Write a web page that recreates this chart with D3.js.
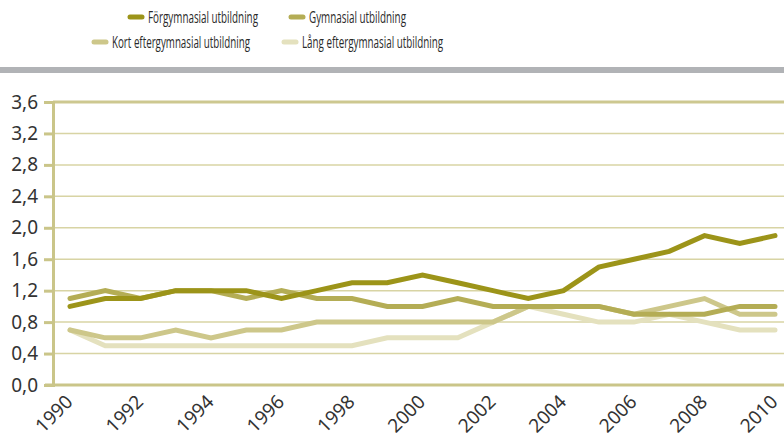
<!DOCTYPE html>
<html>
<head>
<meta charset="utf-8">
<script src="https://cdn.jsdelivr.net/npm/d3@7"></script>
<style>
  body { margin: 0; background: #fff; }
  .legend text { font-family: "Open Sans", sans-serif; font-size: 16px; fill: #2a2a2a; }
  .axis text { font-family: "Noto Sans", "Open Sans", sans-serif; font-size: 19px; fill: #333; }
  .xlabels text { font-family: "Noto Sans", "Open Sans", sans-serif; font-size: 19px; fill: #333; }
</style>
</head>
<body>
<div id="chart"></div>
<script>
// Data
const years = d3.range(1990, 2011);
const seriesNames = ["Förgymnasial utbildning", "Gymnasial utbildning", "Kort eftergymnasial utbildning", "Lång eftergymnasial utbildning"];
const forgymnasial = [1.0, 1.1, 1.1, 1.2, 1.2, 1.2, 1.1, 1.2, 1.3, 1.3, 1.4, 1.3, 1.2, 1.1, 1.2, 1.5, 1.6, 1.7, 1.9, 1.8, 1.9];
const gymnasial    = [1.1, 1.2, 1.1, 1.2, 1.2, 1.1, 1.2, 1.1, 1.1, 1.0, 1.0, 1.1, 1.0, 1.0, 1.0, 1.0, 0.9, 0.9, 0.9, 1.0, 1.0];
const kortEfter    = [0.7, 0.6, 0.6, 0.7, 0.6, 0.7, 0.7, 0.8, 0.8, 0.8, 0.8, 0.8, 0.8, 1.0, 1.0, 1.0, 0.9, 1.0, 1.1, 0.9, 0.9];
const langEfter    = [0.7, 0.5, 0.5, 0.5, 0.5, 0.5, 0.5, 0.5, 0.5, 0.6, 0.6, 0.6, 0.8, 1.0, 0.9, 0.8, 0.8, 0.9, 0.8, 0.7, 0.7];
const yTicks = [0, 0.4, 0.8, 1.2, 1.6, 2.0, 2.4, 2.8, 3.2, 3.6];
const xTicks = [1990, 1992, 1994, 1996, 1998, 2000, 2002, 2004, 2006, 2008, 2010];
const colors = ["#9c9419", "#b4ad55", "#cdc78a", "#e4e1be"];

const width = 784, height = 437;
const margin = { top: 102, right: 9, bottom: 52, left: 53 };

const svg = d3.select("#chart")
    .append("svg")
    .attr("width", width)
    .attr("height", height);

const xScale = d3.scaleLinear()
    .domain([1990, 2010])
    .range([70, width - margin.right]);

const yScale = d3.scaleLinear()
    .domain([0, 3.6])
    .range([height - margin.bottom, margin.top]);

// gray separator band
svg.append("rect")
    .attr("x", 0).attr("y", 67)
    .attr("width", width).attr("height", 6)
    .attr("fill", "#b1b3b6");

// gridlines
svg.append("g")
    .selectAll("line")
    .data(yTicks.filter(d => d > 0))
    .join("line")
    .attr("x1", margin.left)
    .attr("x2", width)
    .attr("y1", d => yScale(d))
    .attr("y2", d => yScale(d))
    .attr("stroke", d => d === 3.6 ? "#cdc890" : "#d8d4a4")
    .attr("stroke-width", d => d === 3.6 ? 3 : 1.5);

// y axis
const yAxis = svg.append("g")
    .attr("class", "axis")
    .attr("transform", `translate(${margin.left},0)`)
    .call(d3.axisLeft(yScale)
        .tickValues(yTicks)
        .tickSize(9)
        .tickPadding(6)
        .tickFormat(d => d3.format(".1f")(d).replace(".", ",")));
yAxis.select(".domain").attr("stroke", "#cac589").attr("stroke-width", 3);
yAxis.selectAll(".tick line").attr("stroke", "#cac589").attr("stroke-width", 3);

// x baseline
svg.append("line")
    .attr("x1", 45).attr("x2", width)
    .attr("y1", yScale(0)).attr("y2", yScale(0))
    .attr("stroke", "#cac589")
    .attr("stroke-width", 3);

// x labels, rotated
svg.append("g")
    .attr("class", "xlabels")
    .selectAll("text")
    .data(xTicks)
    .join("text")
    .attr("text-anchor", "end")
    .attr("transform", d => `translate(${xScale(d) + 4},${yScale(0) + 18}) rotate(-45)`)
    .text(d => d);

// lines
const allSeries = [forgymnasial, gymnasial, kortEfter, langEfter];
const line = d3.line()
    .x((d, i) => xScale(years[i]))
    .y(d => yScale(d));

[3, 2, 1, 0].forEach(k => {
    svg.append("path")
        .datum(allSeries[k])
        .attr("fill", "none")
        .attr("stroke", colors[k])
        .attr("stroke-width", 5)
        .attr("stroke-linejoin", "miter")
        .attr("stroke-linecap", "round")
        .attr("d", line);
});

// legend (condensed type squeezed with textLength)
const legendPos = [[128, 17], [289, 17], [92, 42], [282, 42]];
const legendWidths = [110, 97, 138, 141];
const legend = svg.append("g").attr("class", "legend");
seriesNames.forEach((name, k) => {
    const [lx, ly] = legendPos[k];
    legend.append("line")
        .attr("x1", lx + 2).attr("x2", lx + 14)
        .attr("y1", ly).attr("y2", ly)
        .attr("stroke", colors[k])
        .attr("stroke-width", 5)
        .attr("stroke-linecap", "round");
    legend.append("text")
        .attr("x", lx + 20)
        .attr("y", ly)
        .attr("dy", "0.35em")
        .attr("textLength", legendWidths[k])
        .attr("lengthAdjust", "spacingAndGlyphs")
        .text(name);
});
</script>
</body>
</html>
